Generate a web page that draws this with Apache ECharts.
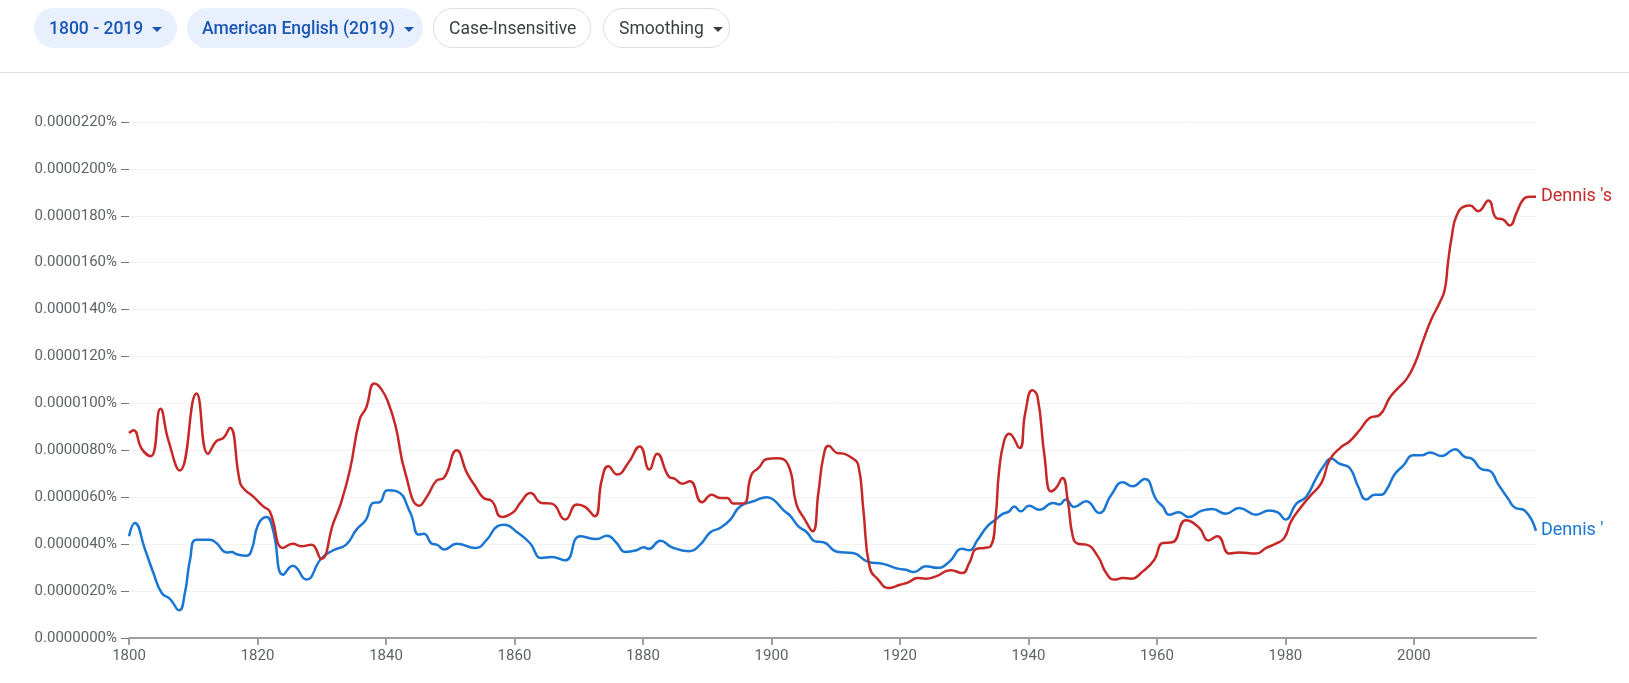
<!DOCTYPE html>
<html>
<head>
<meta charset="utf-8">
<title>Dennis 's / Dennis '</title>
<script src="https://cdn.jsdelivr.net/npm/echarts@6/dist/echarts.min.js"></script>
<style>
  html, body { margin: 0; padding: 0; background: #fff; font-family: Roboto, "Noto Sans", sans-serif; }
  #bar { position: absolute; left: 0; top: 0; width: 1629px; height: 72px; border-bottom: 1px solid #dcdcdc; }
  .chip { position: absolute; top: 8px; height: 40px; box-sizing: border-box; border-radius: 20px;
          font-size: 17.5px; line-height: 40px; white-space: nowrap; padding: 0 0 0 15px; }
  .chip.on { background: #e8f0fe; color: #1a57b5; font-weight: 500; }
  .chip.off { background: #fff; color: #3c4043; border: 1px solid #dadce0; line-height: 38px; }
  .caret { display: inline-block; width: 0; height: 0; margin-left: 9px; vertical-align: middle;
           border-left: 5px solid transparent; border-right: 5px solid transparent; border-top: 5px solid currentColor; }
  #chart { position: absolute; left: 0; top: 0; width: 1629px; height: 683px; }
</style>
</head>
<body>
<div id="chart"></div>
<div id="bar">
  <div class="chip on" style="left:34px;width:143px;">1800 - 2019<span class="caret"></span></div>
  <div class="chip on" style="left:187px;width:236px;">American English (2019)<span class="caret"></span></div>
  <div class="chip off" style="left:433px;width:158px;">Case-Insensitive</div>
  <div class="chip off" style="left:603px;width:127px;">Smoothing<span class="caret"></span></div>
</div>
<script>
// values are in units of 0.000001 %
const redName = "Dennis 's";
const redYears = [1800, 1800.7, 1802, 1803.4, 1804.9, 1806.1, 1807.9, 1810.5, 1812.3, 1813.6, 1814.7, 1815.7,
  1817.3, 1818, 1819.3, 1820.9, 1821.9, 1824, 1825.5, 1826.8, 1828.4, 1829.9, 1831.8, 1833, 1834.4, 1835.9,
  1836.9, 1838.2, 1839.3, 1840.4, 1841.5, 1843, 1845.2, 1846.4, 1847.9, 1849, 1851, 1852.6, 1853.9, 1855.2,
  1856.5, 1858, 1859.8, 1860.9, 1862.5, 1864.2, 1865.8, 1867.9, 1869.7, 1871, 1872.5, 1873.6, 1874.6, 1876,
  1877.7, 1879.5, 1881, 1882.2, 1884, 1885, 1886.1, 1887.3, 1889.2, 1890.7, 1892, 1893.1, 1894.1, 1895.6,
  1896.9, 1898, 1899.3, 1900.8, 1902.6, 1903.9, 1905.2, 1906.4, 1907.3, 1908.1, 1908.9, 1910.2, 1911.2,
  1912.5, 1913.5, 1914.3, 1915.3, 1916.6, 1918.2, 1920, 1921.3, 1922.7, 1924, 1925.6, 1927.9, 1929.7, 1930.8,
  1931.9, 1933.1, 1934.1, 1934.9, 1935.4, 1936.2, 1937, 1938.6, 1939.5, 1940.6, 1941.4, 1942.5, 1943.5,
  1944.3, 1945.3, 1946.1, 1946.9, 1947.7, 1949, 1950.8, 1952.1, 1953.4, 1954.7, 1956, 1957.8, 1959.6, 1960.9,
  1962.4, 1964.5, 1966.6, 1968, 1969.4, 1971.3, 1972.8, 1975.4, 1977, 1978.5, 1979.8, 1980.9, 1982.2, 1983.8,
  1985.6, 1986.9, 1988.7, 1990, 1991.6, 1993.1, 1994.7, 1996.2, 1997.3, 1998.9, 2000.2, 2001.5, 2002.7, 2004,
  2004.8, 2005.3, 2005.9, 2006.6, 2007.9, 2008.7, 2010, 2011.6, 2012.8, 2013.9, 2014.9, 2016, 2017, 2018, 2019];
const redValues = [8.74, 8.86, 8.06, 7.75, 9.77, 8.46, 7.14, 10.42, 7.85, 8.39, 8.53, 8.96,
  6.61, 6.33, 6.04, 5.61, 5.4, 3.84, 4.02, 3.91, 3.98, 3.38, 4.9, 5.76, 7.18, 9.31,
  9.81, 10.85, 10.6, 10.0, 9.03, 7.04, 5.64, 6.04, 6.72, 6.82, 8.0, 7.04, 6.47, 5.97,
  5.83, 5.16, 5.36, 5.76, 6.18, 5.76, 5.73, 5.05, 5.69, 5.59, 5.19, 6.75, 7.32, 6.97,
  7.46, 8.17, 7.18, 7.86, 6.89, 6.78, 6.58, 6.68, 5.79, 6.11, 5.97, 5.97, 5.73, 5.73,
  6.97, 7.25, 7.63, 7.66, 7.39, 5.69, 5.05, 4.55, 6.18, 7.75, 8.2, 7.89, 7.86,
  7.68, 7.39, 5.47, 2.99, 2.49, 2.13, 2.27, 2.37, 2.56, 2.53, 2.63, 2.89, 2.77, 3.2,
  3.8, 3.84, 3.91, 5.19, 7.04, 8.39, 8.71, 8.1, 9.59, 10.56, 10.31, 7.75, 6.25,
  6.4, 6.82, 5.9, 4.34, 4.02, 3.98, 3.48, 2.77, 2.49, 2.56, 2.53, 2.84, 3.34, 4.05,
  4.08, 5.02, 4.69, 4.16, 4.34, 3.6, 3.65, 3.6, 3.84, 4.02, 4.26, 4.98, 5.5, 6.04,
  6.61, 7.6, 8.15, 8.39, 8.88, 9.38, 9.52, 10.23, 10.59, 11.06, 11.74, 12.73, 13.58, 14.29,
  14.86, 16.0, 17.13, 17.98, 18.41, 18.44, 18.2, 18.65, 17.91, 17.84, 17.59, 18.15, 18.69, 18.81, 18.81];

const blueName = "Dennis '";
const blueYears = [1800, 1800.9, 1802.5, 1803.8, 1805.1, 1806.4, 1807.8, 1808.7, 1809.5, 1810.5, 1812.6, 1813.6,
  1815.2, 1816, 1816.7, 1818.3, 1819.1, 1820.1, 1821.4, 1822.4, 1824, 1825.5, 1827.6, 1829.9, 1831.8, 1833.8,
  1835.4, 1836.9, 1838, 1839, 1840.2, 1841.7, 1843.8, 1845.1, 1845.9, 1847.2, 1847.9, 1849.1, 1851, 1853.9,
  1855.7, 1857.3, 1858.4, 1860.4, 1862.4, 1864.2, 1865.8, 1867.9, 1870.2, 1872.8, 1874.4, 1875.9, 1877.2,
  1879, 1880.1, 1880.9, 1882.7, 1884.5, 1887.1, 1888.9, 1890.5, 1892, 1893.6, 1895.1, 1897.2, 1899.3, 1900.3,
  1901.9, 1902.9, 1904.2, 1905.5, 1906.8, 1908.1, 1910.2, 1912.7, 1915.1, 1917.4, 1919.5, 1920.9, 1922.2,
  1924, 1925.8, 1927.6, 1929.7, 1930.8, 1932.1, 1933.6, 1934.9, 1936, 1937, 1937.8, 1938.8, 1940.1, 1941.7,
  1943.8, 1944.8, 1945.8, 1947.1, 1949, 1951, 1952.9, 1954.7, 1956.2, 1958.1, 1959.9, 1960.9, 1961.9, 1963.4,
  1964.9, 1967, 1968.6, 1970.7, 1972.8, 1975.4, 1977.5, 1978.8, 1980, 1981.7, 1983.2, 1984.8, 1986.1, 1987.1,
  1988.4, 1990, 1991.3, 1992.6, 1993.9, 1994.9, 1995.8, 1997, 1998.3, 1999.9, 2001.2, 2002.5, 2004.3, 2006.4,
  2007.9, 2009, 2010.5, 2011.8, 2013.1, 2014.7, 2015.7, 2017.3, 2019];
const blueValues = [4.34, 4.9, 3.77, 2.77, 1.92, 1.66, 1.18, 1.92, 3.34, 4.19, 4.19, 4.05,
  3.65, 3.67, 3.58, 3.51, 3.77, 4.83, 5.16, 4.62, 2.7, 3.08, 2.49, 3.38, 3.74, 3.98,
  4.62, 5.05, 5.76, 5.79, 6.3, 6.25, 5.33, 4.41, 4.45, 4.01, 3.98, 3.77, 4.02, 3.84,
  4.19, 4.76, 4.83, 4.51, 4.05, 3.41, 3.45, 3.31, 4.34, 4.22, 4.36, 4.05, 3.67,
  3.74, 3.87, 3.8, 4.15, 3.87, 3.7, 3.98, 4.51, 4.69, 5.05, 5.61, 5.83, 6.0, 5.9,
  5.44, 5.22, 4.76, 4.51, 4.12, 4.08, 3.68, 3.62, 3.24, 3.16, 2.97, 2.91, 2.81,
  3.06, 2.99, 3.23, 3.8, 3.74, 4.19, 4.76, 5.05, 5.29, 5.4, 5.61, 5.4, 5.64, 5.47,
  5.76, 5.69, 5.9, 5.59, 5.83, 5.33, 6.11, 6.64, 6.47, 6.78, 5.9, 5.61, 5.26, 5.36,
  5.16, 5.43, 5.5, 5.3, 5.54, 5.26, 5.44, 5.36, 5.05, 5.73, 6.01, 6.82, 7.39, 7.65,
  7.43, 7.25, 6.47, 5.9, 6.11, 6.11, 6.35, 6.98, 7.34, 7.79, 7.79, 7.91, 7.76, 8.05,
  7.72, 7.65, 7.2, 7.13, 6.56, 5.92, 5.56, 5.42, 4.57];

const yearTicks = [1800, 1820, 1840, 1860, 1880, 1900, 1920, 1940, 1960, 1980, 2000];

const redColor = "#c62828";
const blueColor = "#1976d2";

var chart = echarts.init(document.getElementById("chart"));

function makeSeries(name, years, values, color) {
  return {
    name: name,
    type: "line",
    data: years.map((y, i) => [y, values[i]]),
    smooth: 0.5,
    showSymbol: false,
    symbol: "none",
    lineStyle: { width: 2.5, color: color },
    itemStyle: { color: color },
    endLabel: {
      show: true,
      formatter: "{a}",
      color: color,
      fontSize: 18,
      fontFamily: "Roboto",
      distance: 5,
    },
    animation: false,
  };
}

chart.setOption({
  animation: false,
  grid: { left: 129, right: 93, top: 122, bottom: 45 },
  xAxis: {
    type: "value",
    min: 1800,
    max: 2019,
    interval: 20,
    axisLine: { show: true, lineStyle: { color: "#9e9e9e", width: 2 } },
    axisTick: { show: true, length: 7, customValues: yearTicks, lineStyle: { color: "#9e9e9e", width: 2 } },
    axisLabel: {
      customValues: yearTicks,
      formatter: (v) => String(v),
      color: "#5f6368",
      fontSize: 15,
      fontFamily: "Roboto",
      margin: 11,
    },
    splitLine: { show: false },
  },
  yAxis: {
    type: "value",
    min: 0,
    max: 22,
    interval: 2,
    axisLine: { show: false },
    axisTick: { show: true, length: 8, lineStyle: { color: "#757575", width: 1 } },
    axisLabel: {
      color: "#5f6368",
      fontSize: 15,
      fontFamily: "Roboto",
      margin: 12,
      formatter: (v) => (v / 1e6).toFixed(7) + "%",
    },
    splitLine: { show: true, lineStyle: { color: "#f3f3f3", width: 1 } },
  },
  series: [
    makeSeries(blueName, blueYears, blueValues, blueColor),
    makeSeries(redName, redYears, redValues, redColor),
  ],
});
</script>
</body>
</html>
